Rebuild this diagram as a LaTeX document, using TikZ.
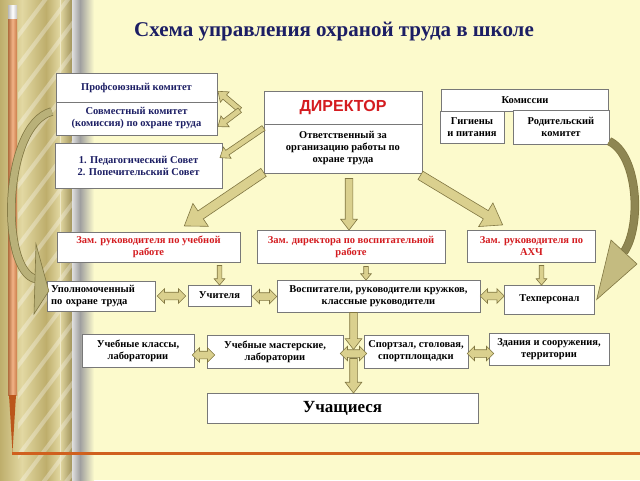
\documentclass[tikz,border=0pt]{standalone}
\usepackage{fontspec}
\setmainfont{Liberation Serif}
\newfontfamily\arialfont{Liberation Sans}
\usetikzlibrary{shapes.arrows,calc}

\definecolor{cream}{RGB}{252,250,204}
\definecolor{gold1}{RGB}{190,174,108}
\definecolor{gold2}{RGB}{226,216,162}
\definecolor{pencil}{RGB}{236,146,84}
\definecolor{lineor}{RGB}{208,96,30}
\definecolor{boxline}{RGB}{120,120,120}
\definecolor{navy}{RGB}{28,30,100}
\definecolor{redtxt}{RGB}{212,28,32}
\definecolor{arrfill}{RGB}{218,208,142}
\definecolor{arrline}{RGB}{128,118,66}
\definecolor{darkol}{RGB}{142,134,82}

% arrow from one point to another (tail at #2)
\newcommand{\fatarrow}[3]{%
  \path let \p1=#2, \p2=#3, \n1={atan2(\y2-\y1,\x2-\x1)}, \n2={veclen(\x2-\x1,\y2-\y1)} in
    node[#1, anchor=tail, rotate=\n1, minimum height=\n2] at #2 {};}
% double arrow between two points
\newcommand{\twoarrow}[3]{%
  \path let \p1=#2, \p2=#3, \n1={atan2(\y2-\y1,\x2-\x1)}, \n2={veclen(\x2-\x1,\y2-\y1)} in
    node[#1, rotate=\n1, minimum height=\n2] at ($#2!0.5!#3$) {};}

\begin{document}
\begin{tikzpicture}
  [x=1pt,y=-1pt,
   box/.style 2 args={draw=boxline,fill=white,align=center,inner sep=1pt,
     minimum width=#1pt,minimum height=#2pt,font=\fontsize{10.5}{12}\selectfont\bfseries},
   arrbase/.style={draw=arrline,fill=arrfill,line width=.6pt,inner sep=0pt,minimum width=0pt},
   bigarr/.style={single arrow,arrbase,inner ysep=4.5pt,
     single arrow head extend=9pt,single arrow tip angle=70},
   midarr/.style={single arrow,arrbase,inner ysep=3.5pt,
     single arrow head extend=4.5pt,single arrow tip angle=75},
   thinarr/.style={single arrow,arrbase,inner ysep=2.5pt,
     single arrow head extend=4pt,single arrow tip angle=75},
   smallarr/.style={single arrow,arrbase,inner ysep=2pt,
     single arrow head extend=3pt,single arrow tip angle=80},
   dblarr/.style={double arrow,arrbase,inner ysep=3.5pt,
     double arrow head extend=3.5pt,double arrow tip angle=90}]

  % background and left border
  \useasboundingbox (0,0) rectangle (640,480);
  \fill[cream] (0,0) rectangle (640,480);
  \shade[left color=gold1,right color=gold2] (0,0) rectangle (22,480);
  \shade[left color=gold2,right color=gold1] (22,0) rectangle (46,480);
  \shade[left color=gold1,right color=gold2] (46,0) rectangle (60,480);
  \shade[left color=gold2,right color=gold1!85!black] (60,0) rectangle (72,480);
  \begin{scope}
    \clip (18,0) rectangle (72,480);
    \foreach \k in {0,...,18}
      \draw[white,opacity=.3,line width=4pt] (15,30*\k+40) -- (75,30*\k-40);
  \end{scope}
  \draw[gold2!60!white,line width=.8pt] (60,0) -- (60,480);
  \shade[left color=gray!25,right color=gray!75] (72,0) rectangle (80,480);
  \shade[left color=gray!75,right color=cream] (80,0) rectangle (94,480);
  % pencil
  \shade[left color=pencil!75!black,right color=pencil!85!black,middle color=pencil!70!white]
    (8,18) rectangle (17,395);
  \shade[left color=gray!55,right color=gray!45,middle color=white] (8,5) rectangle (17,18);
  \fill[lineor!90!black] (9,395) -- (16,395) -- (12.5,452) -- cycle;
  \fill[lineor] (12,451.5) rectangle (640,455);

  \node[font=\fontsize{21}{24}\selectfont\bfseries,text=navy] (title) at (334,32)
    {Схема управления охраной труда в школе};

  % top row
  \node[box={161}{29},text=navy] (prof) at (136.5,87.5) {Профсоюзный комитет};
  \node[box={161}{33},text=navy] (sovm) at (136.5,118.5) {Совместный комитет\\(комиссия) по охране труда};
  \node[box={167}{45},text=navy] (ped) at (138.5,165.5) {1. Педагогический Совет\\2. Попечительский Совет};
  \node[box={158}{33},font=\arialfont\fontsize{16}{18}\selectfont\bfseries,text=redtxt] (dir) at (343,107.5) {ДИРЕКТОР};
  \node[box={158}{49}] (resp) at (343,148.5) {Ответственный за\\организацию работы по\\охране труда};
  \node[box={167}{22}] (kom) at (525,100) {Комиссии};
  \node[box={64}{32}] (gig) at (472,127) {Гигиены\\и питания};
  \node[box={96}{34}] (rod) at (561,127) {Родительский\\комитет};

  % deputies
  \node[box={183}{30},text=redtxt] (zuch) at (148.5,247) {Зам. руководителя по учебной\\работе};
  \node[box={188}{33},text=redtxt] (zvos) at (351,246.5) {Зам. директора по воспитательной\\работе};
  \node[box={128}{32},text=redtxt] (zahch) at (531.5,246) {Зам. руководителя по\\АХЧ};

  % staff
  \node[box={108}{30},text width=100pt,align=left] (upol) at (101,296) {Уполномоченный\\по охране труда};
  \node[box={63}{21}] (uchit) at (219.5,295.5) {Учителя};
  \node[box={203}{32}] (vosp) at (378.5,296) {Воспитатели, руководители кружков,\\классные руководители};
  \node[box={90}{29}] (tech) at (549.5,299.5) {Техперсонал};

  % premises
  \node[box={112}{33}] (kl) at (138,351) {Учебные классы,\\лаборатории};
  \node[box={136}{33}] (mast) at (275,351.5) {Учебные мастерские,\\лаборатории};
  \node[box={104}{33}] (sport) at (416,351.5) {Спортзал, столовая,\\спортплощадки};
  \node[box={120}{32}] (zd) at (549,349.5) {Здания и сооружения,\\территории};
  \node[box={271}{30},font=\fontsize{17}{19}\selectfont\bfseries] (stud) at (342.5,408) {Учащиеся};

  % arrows from the director
  \coordinate (v1) at (240,110);
  \fatarrow{thinarr}{(v1)}{($(prof.east)+(1,4)$)}
  \fatarrow{thinarr}{(v1)}{($(sovm.east)+(1,8)$)}
  \fatarrow{thinarr}{($(resp.north west)+(0,4)$)}{($(ped.east)+(-2,-8)$)}
  \fatarrow{bigarr}{($(resp.south west)+(0,-1)$)}{($(zuch.north)+(36,-6)$)}
  \fatarrow{midarr}{($(resp.south)+(6,5)$)}{($(zvos.north)+(-2,0)$)}
  \fatarrow{bigarr}{($(resp.south east)+(-2,2)$)}{($(zahch.north)+(-29,-5)$)}

  % deputies to staff
  \coordinate (c1) at ($(uchit.north |- zuch.south)+(0,3)$);
  \coordinate (c2) at ($(zvos.south)+(15,3)$);
  \coordinate (c3) at ($(zahch.south)+(10,3)$);
  \fatarrow{smallarr}{(c1)}{(uchit.north)}
  \fatarrow{smallarr}{(c2)}{(c2 |- vosp.north)}
  \fatarrow{smallarr}{(c3)}{(c3 |- tech.north)}
  \twoarrow{dblarr}{($(upol.east)+(2,0)$)}{($(upol.east -| uchit.west)+(-2,0)$)}
  \twoarrow{dblarr}{($(uchit.east)+(1,1)$)}{($(uchit.east -| vosp.west)+(0,1)$)}
  \twoarrow{dblarr}{(vosp.east)}{(vosp.east -| tech.west)}

  % premises
  \coordinate (c4) at ($(vosp.south)+(-25,0)$);
  \coordinate (c5) at ($(c4)+(0,46)$);
  \fatarrow{midarr}{(c4)}{($(c4)+(0,37)$)}
  \fatarrow{midarr}{(c5)}{(c5 |- stud.north)}
  \twoarrow{dblarr}{($(kl.east)+(-2,4)$)}{($(kl.east -| mast.west)+(8,4)$)}
  \twoarrow{dblarr}{($(mast.east)+(-3,2)$)}{($(mast.east -| sport.west)+(3,2)$)}
  \twoarrow{dblarr}{($(sport.east)+(-1,2)$)}{($(sport.east -| zd.west)+(5,2)$)}

  % curved arrows
  \draw[arrline,line width=8.5pt] ($(sovm.west)+(-4,-7)$) .. controls (2,125) and (0,272) .. (36,279);
  \draw[arrfill!85!black,line width=7pt] ($(sovm.west)+(-4,-7)$) .. controls (2,125) and (0,272) .. (36,279);
  \draw[arrline,fill=arrfill!85!black,line width=.6pt] (36,244) -- ($(upol.west)+(2,-5)$) -- (34,314) -- cycle;
  \draw[arrline,line width=8.5pt] ($(rod.south east)+(0,-3)$) .. controls (638,155) and (642,225) .. (624,252);
  \draw[darkol,line width=7pt] ($(rod.south east)+(0,-3)$) .. controls (638,155) and (642,225) .. (624,252);
  \draw[arrline,fill=arrfill!90!black,line width=.6pt] (611,240) -- ($(tech.east)+(2,0)$) -- (637,264) -- cycle;
\end{tikzpicture}
\end{document}
